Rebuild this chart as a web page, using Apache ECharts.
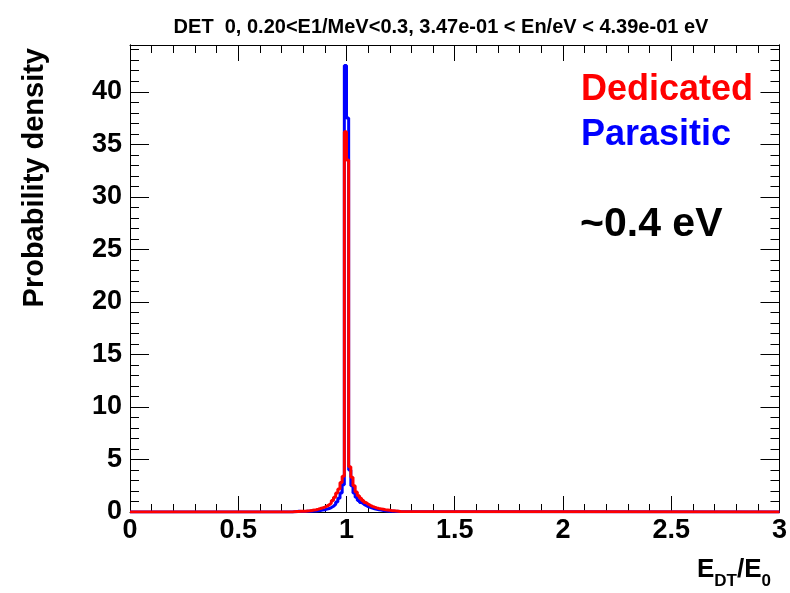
<!DOCTYPE html>
<html>
<head>
<meta charset="utf-8">
<script src="https://cdn.jsdelivr.net/npm/echarts@6/dist/echarts.min.js"></script>
<style>
  html, body { margin: 0; padding: 0; background: #fff; }
  #chart { width: 790px; height: 593px; }
</style>
</head>
<body>
<div id="chart"></div>
<script>
// histogram: 0.01 wide bins over 0..3, only the 0.75..1.25 part is non-zero
var xMin = 0;
var xMax = 3;
var binWidth = 0.01;
var peakStart = 0.75;

var dedicated = [
    0.03, 0.04, 0.05, 0.06, 0.07, 0.08, 0.10, 0.12, 0.15, 0.18,
    0.22, 0.27, 0.33, 0.40, 0.47, 0.56, 0.68, 0.85, 1.10, 1.40,
    1.80, 2.20, 2.80, 3.40, 36.2, 33.5, 4.30, 3.30, 2.50, 1.90,
    1.55, 1.30, 1.10, 0.90, 0.75, 0.64, 0.54, 0.46, 0.39, 0.34,
    0.30, 0.26, 0.22, 0.19, 0.16, 0.13, 0.11, 0.09, 0.07, 0.05
];
var parasitic = [
    0.02, 0.03, 0.08, 0.04, 0.05, 0.05, 0.06, 0.07, 0.08, 0.09,
    0.10, 0.12, 0.15, 0.18, 0.22, 0.27, 0.33, 0.42, 0.55, 0.72,
    0.95, 1.30, 1.80, 2.60, 42.5, 37.5, 4.00, 2.50, 1.80, 1.40,
    1.10, 0.90, 0.75, 0.62, 0.52, 0.44, 0.37, 0.31, 0.26, 0.22,
    0.18, 0.15, 0.12, 0.10, 0.08, 0.07, 0.06, 0.05, 0.06, 0.04
];

var yMax = 44.45;
var titleText = 'DET  0, 0.20<E1/MeV<0.3, 3.47e-01 < En/eV < 4.39e-01 eV';
var yTitle = 'Probability density';
var legendNames = ['Dedicated', 'Parasitic'];
var energyNote = '~0.4 eV';

var font = '"Liberation Sans", Arial, Helvetica, sans-serif';

// step outline points: low edge of each bin, then back to zero
function histPoints(values) {
    var pts = [[xMin, 0]];
    values.forEach(function(v, i) {
        var edge = Math.round((peakStart + i * binWidth) * 1000) / 1000;
        pts.push([edge, v]);
    });
    var end = Math.round((peakStart + values.length * binWidth) * 1000) / 1000;
    pts.push([end, 0]);
    pts.push([xMax, 0]);
    return pts;
}

var chart = echarts.init(document.getElementById('chart'));

var lineStyleAxis = { color: '#000', width: 1 };

function xAx(pos, showLabel) {
    return {
        type: 'value', position: pos, min: xMin, max: xMax, interval: 0.5,
        axisLine: { show: true, onZero: false, lineStyle: lineStyleAxis },
        axisTick: { show: true, inside: true, length: 16, lineStyle: lineStyleAxis },
        minorTick: { show: true, splitNumber: 5, length: 8, lineStyle: lineStyleAxis },
        splitLine: { show: false },
        axisLabel: {
            show: showLabel, color: '#000', fontFamily: font, fontWeight: 'bold',
            fontSize: 27, margin: 5
        }
    };
}

function yAx(pos, interval, len, showLabel) {
    return {
        type: 'value', position: pos, min: 0, max: yMax, interval: interval,
        axisLine: { show: true, onZero: false, lineStyle: lineStyleAxis },
        axisTick: { show: true, inside: true, length: len, lineStyle: lineStyleAxis },
        splitLine: { show: false },
        axisLabel: {
            show: showLabel, color: '#000', fontFamily: font, fontWeight: 'bold',
            fontSize: 27, margin: 8, showMaxLabel: false,
            padding: [6, 0, 0, 0]
        }
    };
}

function txt(x, y, s, size, color, align) {
    return {
        type: 'text', x: x, y: y,
        style: { text: s, fill: color, font: 'bold ' + size + 'px ' + font, align: align, verticalAlign: 'middle' }
    };
}

var option = {
    backgroundColor: '#fff',
    animation: false,
    grid: { left: 130, right: 8, top: 45, bottom: 81, containLabel: false },
    xAxis: [xAx('bottom', true), xAx('top', false)],
    yAxis: [
        yAx('left', 5, 19, true),
        yAx('left', 1, 9, false),
        yAx('right', 5, 19, false),
        yAx('right', 1, 9, false)
    ],
    series: [
        {
            name: legendNames[1], type: 'line', step: 'end', data: histPoints(parasitic),
            xAxisIndex: 0, yAxisIndex: 0, symbol: 'none', clip: true,
            lineStyle: { color: '#0000ff', width: 3 }, z: 2
        },
        {
            name: legendNames[0], type: 'line', step: 'end', data: histPoints(dedicated),
            xAxisIndex: 0, yAxisIndex: 0, symbol: 'none', clip: true,
            lineStyle: { color: '#ff0000', width: 3 }, z: 3
        }
    ],
    graphic: [
        txt(441, 27, titleText, 20, '#000', 'center'),
        {
            type: 'text', x: 35, y: 48, rotation: Math.PI / 2,
            style: { text: yTitle, fill: '#000', font: 'bold 29px ' + font, align: 'right', verticalAlign: 'middle' }
        },
        // x title E_DT/E_0, pieces placed left to right
        txt(697, 570, 'E', 26, '#000', 'left'),
        txt(714.3, 581, 'DT', 17, '#000', 'left'),
        txt(737, 570, '/', 26, '#000', 'left'),
        txt(744.2, 570, 'E', 26, '#000', 'left'),
        txt(761.5, 581, '0', 17, '#000', 'left'),
        txt(581, 90, legendNames[0], 36, '#ff0000', 'left'),
        txt(581, 135, legendNames[1], 36, '#0000ff', 'left'),
        txt(580, 225, energyNote, 41, '#000', 'left')
    ]
};

chart.setOption(option);
</script>
</body>
</html>
